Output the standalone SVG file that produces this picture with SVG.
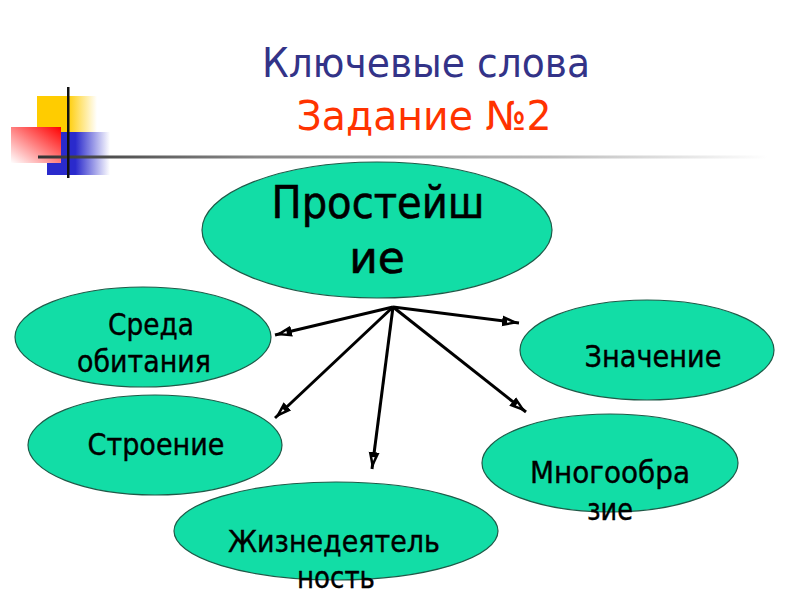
<svg xmlns="http://www.w3.org/2000/svg" width="800" height="600" viewBox="0 0 800 600">
<defs>
<linearGradient id="gY" x1="0" y1="0" x2="1" y2="0"><stop offset="0.5" stop-color="#ffcc00"/><stop offset="1" stop-color="#ffffff"/></linearGradient>
<linearGradient id="gB" x1="0" y1="0" x2="1" y2="0"><stop offset="0.45" stop-color="#2a2acc"/><stop offset="1" stop-color="#ffffff"/></linearGradient>
<linearGradient id="gR" x1="1" y1="0" x2="0" y2="1"><stop offset="0" stop-color="#ff0000"/><stop offset="1" stop-color="#ffffff"/></linearGradient>
<linearGradient id="gL" x1="0" y1="0" x2="1" y2="0"><stop offset="0" stop-color="#333333"/><stop offset="0.3" stop-color="#888888"/><stop offset="0.7" stop-color="#bbbbbb"/><stop offset="1" stop-color="#ffffff"/></linearGradient>
<marker id="arr" viewBox="0 0 17 12" refX="17" refY="6" markerWidth="17" markerHeight="12" markerUnits="userSpaceOnUse" orient="auto">
<path d="M0,0.5 L17,6 L0,11.5 z" fill="#000"/>
<path d="M5,4.8 L9,6 L5,7.2 z" fill="#fff"/>
</marker>
<style>
.node ellipse{fill:#12dda6;stroke:#1f5a48;stroke-width:1.2}
.lbl{font-family:"DejaVu Sans","Noto Sans",sans-serif;font-size:30px;fill:#000;stroke:#000;stroke-width:0.4;text-anchor:middle}
.big{font-size:44px;stroke-width:0.6}
.conn line{stroke:#000;stroke-width:3;marker-end:url(#arr)}
</style>
</defs>
<rect width="800" height="600" fill="#fff"/>
<g id="decor">
<rect x="37" y="96" width="60" height="37" fill="url(#gY)"/>
<rect x="47" y="132" width="63" height="43" fill="url(#gB)"/>
<rect x="11" y="127" width="50" height="36" fill="url(#gR)"/>
<rect x="38" y="155.5" width="730" height="3" fill="url(#gL)"/>
<rect x="67" y="87" width="2.5" height="91" fill="#111"/>
</g>
<g id="title">
<text x="426" y="77" font-family="'DejaVu Sans',Verdana,sans-serif" font-size="40" fill="#333388" text-anchor="middle" textLength="328" lengthAdjust="spacingAndGlyphs">Ключевые слова</text>
<text x="424" y="130" font-family="'DejaVu Sans',sans-serif" font-size="40" fill="#ff3300" text-anchor="middle" textLength="255" lengthAdjust="spacingAndGlyphs">Задание №2</text>
</g>
<g id="connectors" class="conn">
<line x1="393" y1="307" x2="275" y2="335"/>
<line x1="393" y1="307" x2="275" y2="418"/>
<line x1="393" y1="307" x2="372" y2="469"/>
<line x1="393" y1="307" x2="519" y2="323"/>
<line x1="393" y1="307" x2="526" y2="412"/>
</g>
<g id="n-prost" class="node">
<ellipse cx="377" cy="230" rx="175" ry="68"/>
<text class="lbl big" x="378" y="218" textLength="213" lengthAdjust="spacingAndGlyphs">Простейш</text>
<text class="lbl big" x="377" y="273">ие</text>
</g>
<g id="n-sreda" class="node">
<ellipse cx="143" cy="337" rx="128" ry="50"/>
<text class="lbl" x="151" y="335" textLength="86" lengthAdjust="spacingAndGlyphs">Среда</text>
<text class="lbl" x="144" y="372" textLength="134" lengthAdjust="spacingAndGlyphs">обитания</text>
</g>
<g id="n-stroenie" class="node">
<ellipse cx="155" cy="445" rx="127" ry="50"/>
<text class="lbl" x="156" y="455" textLength="137" lengthAdjust="spacingAndGlyphs">Строение</text>
</g>
<g id="n-zhizn" class="node">
<ellipse cx="336" cy="531" rx="162" ry="49"/>
<text class="lbl" x="334" y="552" textLength="212" lengthAdjust="spacingAndGlyphs">Жизнедеятель</text>
<text class="lbl" x="336" y="588" textLength="78" lengthAdjust="spacingAndGlyphs">ность</text>
</g>
<g id="n-znach" class="node">
<ellipse cx="647" cy="350" rx="127" ry="50"/>
<text class="lbl" x="653" y="367" textLength="137" lengthAdjust="spacingAndGlyphs">Значение</text>
</g>
<g id="n-mnogo" class="node">
<ellipse cx="610" cy="463" rx="128" ry="49"/>
<text class="lbl" x="610" y="483" textLength="160" lengthAdjust="spacingAndGlyphs">Многообра</text>
<text class="lbl" x="610" y="520" textLength="46" lengthAdjust="spacingAndGlyphs">зие</text>
</g>
</svg>
